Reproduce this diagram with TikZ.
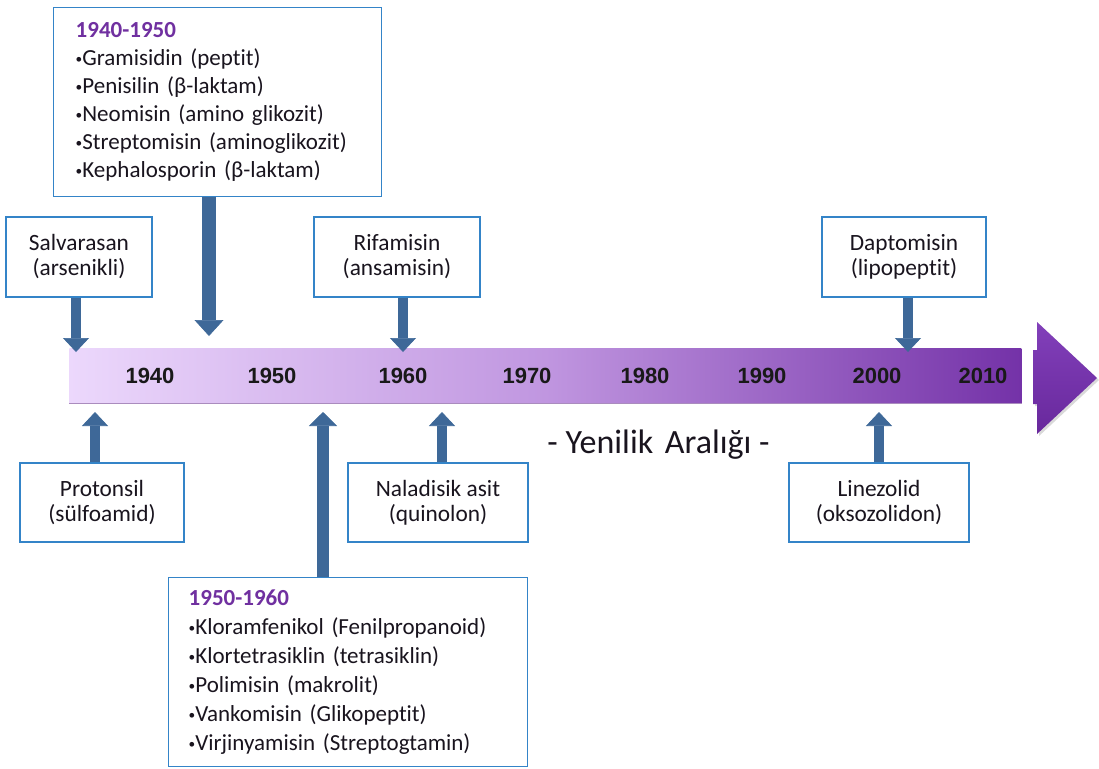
\documentclass[tikz,border=0pt]{standalone}
\usepackage{fontspec}
\setmainfont{Carlito}[Ligatures=NoCommon]
\newfontfamily\yearfont{Liberation Sans}
\usetikzlibrary{arrows.meta}
\definecolor{boxblue}{RGB}{52,132,200}
\definecolor{arrowblue}{RGB}{62,104,152}
\definecolor{titlepurple}{RGB}{112,48,160}
\definecolor{barleft}{RGB}{236,216,252}
\definecolor{barmid}{RGB}{192,150,224}
\definecolor{barright}{RGB}{116,50,168}
\definecolor{headtop}{RGB}{130,64,186}
\definecolor{headbot}{RGB}{104,40,156}
\definecolor{barline}{RGB}{170,140,190}
\definecolor{txt}{RGB}{25,20,30}
\newcommand\mybul{\raisebox{1.6pt}{\fontsize{10}{10}\selectfont •}}
\tikzset{
  box/.style={draw=boxblue, line width=1.1pt, fill=white, rectangle, inner sep=0pt, text=txt},
  smallbox/.style={box, align=center, font=\fontsize{17.5}{18.75}\selectfont},
  listbox/.style={box, align=left, anchor=north west, inner xsep=16.5pt},
  blk/.style={draw=arrowblue, line width=7.5pt, -{Triangle[length=10.5pt,width=19.5pt,line width=0.5pt]}},
  bigblk/.style={draw=arrowblue, line width=10.5pt, -{Triangle[length=12pt,width=21.75pt,line width=0.5pt]}},
  midblk/.style={draw=arrowblue, line width=9pt, -{Triangle[length=10.5pt,width=21pt,line width=0.5pt]}},
  year/.style={font=\yearfont\bfseries\fontsize{16.5}{16.5}\selectfont, text=black!90}
}
\begin{document}
\begin{tikzpicture}[x=0.75pt,y=-0.75pt]
\useasboundingbox (0,0) rectangle (1099,768);
% timeline bar
\node[rectangle, inner sep=0pt, minimum width=714pt, minimum height=41.25pt, anchor=north west,
      left color=barleft, right color=barright, middle color=barmid] (bar) at (69,348) {};
\draw[barline, line width=1pt] (bar.south west) -- (bar.south east);
% big arrow head
\fill[black, opacity=0.15] (1039,324) -- (1099,380) -- (1039,436) -- (1039,406) -- (1035,406) -- (1035,352) -- (1039,352) -- cycle;
\shade[top color=headtop, bottom color=headbot] (1037,322) -- (1097,378) -- (1037,434) -- (1037,404) -- (1033,404) -- (1033,350) -- (1037,350) -- cycle;
% years
\node[year] (y1940) at (150,376) {1940};
\node[year] (y1950) at (272,376) {1950};
\node[year] (y1960) at (403,376) {1960};
\node[year] (y1970) at (527,376) {1970};
\node[year] (y1980) at (645,376) {1980};
\node[year] (y1990) at (762,376) {1990};
\node[year] (y2000) at (877,376) {2000};
\node[year] (y2010) at (983,376) {2010};
% boxes
\node[listbox, text width=213pt, minimum height=141.75pt, font=\fontsize{17.25}{21}\selectfont] (b4050) at (53,7)
 {{\bfseries\color{titlepurple}1940-1950}\\
  \mybul Gramisidin (peptit)\\
  \mybul Penisilin (β-laktam)\\
  \mybul Neomisin (amino glikozit)\\
  \mybul Streptomisin (aminoglikozit)\\
  \mybul Kephalosporin (β-laktam)};
\node[listbox, inner xsep=15pt, text width=239.25pt, minimum height=141.75pt, font=\fontsize{17.25}{21.75}\selectfont] (b5060) at (168,577)
 {{\bfseries\color{titlepurple}1950-1960}\\
  \mybul Kloramfenikol (Fenilpropanoid)\\
  \mybul Klortetrasiklin (tetrasiklin)\\
  \mybul Polimisin (makrolit)\\
  \mybul Vankomisin (Glikopeptit)\\
  \mybul Virjinyamisin (Streptogtamin)};
\node[smallbox, minimum width=109.5pt, minimum height=60pt] (sal) at (79,257) {Salvarasan\\(arsenikli)};
\node[smallbox, minimum width=124.5pt, minimum height=60pt] (rif) at (397,257) {Rifamisin\\(ansamisin)};
\node[smallbox, minimum width=123pt, minimum height=60pt] (dap) at (904,257) {Daptomisin\\(lipopeptit)};
\node[smallbox, minimum width=123pt, minimum height=59.25pt] (pro) at (102,502.5) {Protonsil\\(sülfoamid)};
\node[smallbox, minimum width=135pt, minimum height=59.25pt] (nal) at (438,502.5) {Naladisik asit\\(quinolon)};
\node[smallbox, minimum width=135pt, minimum height=59.25pt] (lin) at (879,502.5) {Linezolid\\(oksozolidon)};
% caption
\node[font=\fontsize{25.5}{25.5}\selectfont, text=txt, anchor=base] (yen) at (658.5,453) {- Yenilik\hspace{3pt} Aralığı -};
% arrow tips
\coordinate (salT) at (76,352);
\coordinate (a4050T) at (209,336);
\coordinate (rifT) at (403,352);
\coordinate (dapT) at (908,352);
\coordinate (proT) at (95,412);
\coordinate (a5060T) at (323,412);
\coordinate (nalT) at (442,412);
\coordinate (linT) at (879,412);
% arrows
\draw[blk] (sal.south -| salT) -- (salT);
\draw[bigblk] (b4050.south -| a4050T) -- (a4050T);
\draw[blk] (rif.south -| rifT) -- (rifT);
\draw[blk] (dap.south -| dapT) -- (dapT);
\draw[blk] (pro.north -| proT) -- (proT);
\draw[midblk] (b5060.north -| a5060T) -- (a5060T);
\draw[blk] (nal.north -| nalT) -- (nalT);
\draw[blk] (lin.north -| linT) -- (linT);
\end{tikzpicture}
\end{document}
